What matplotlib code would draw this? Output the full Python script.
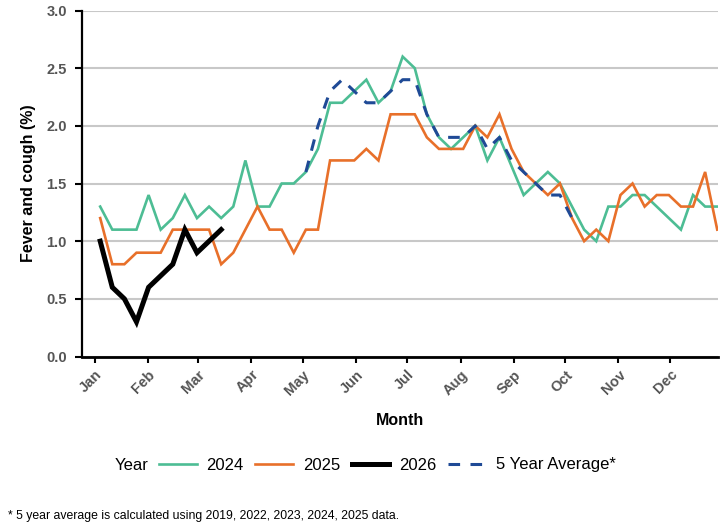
import matplotlib
matplotlib.use("Agg")
import matplotlib.pyplot as plt
import numpy as np

plt.rcParams['font.family'] = ['Liberation Sans', 'DejaVu Sans']

months = ['Jan', 'Feb', 'Mar', 'Apr', 'May', 'Jun', 'Jul', 'Aug', 'Sep', 'Oct', 'Nov', 'Dec']
month_start_day = [0, 31, 60, 91, 121, 152, 182, 213, 244, 274, 305, 335]

y2024 = [1.3, 1.1, 1.1, 1.1, 1.4, 1.1, 1.2, 1.4, 1.2, 1.3, 1.2, 1.3, 1.7, 1.3, 1.3,
         1.5, 1.5, 1.6, 1.8, 2.2, 2.2, 2.3, 2.4, 2.2, 2.3, 2.6, 2.5, 2.1, 1.9, 1.8,
         1.9, 2.0, 1.7, 1.9, 1.65, 1.4, 1.5, 1.6, 1.5, 1.3, 1.1, 1.0, 1.3, 1.3, 1.4,
         1.4, 1.3, 1.2, 1.1, 1.4, 1.3, 1.3]
y2025 = [1.2, 0.8, 0.8, 0.9, 0.9, 0.9, 1.1, 1.1, 1.1, 1.1, 0.8, 0.9, 1.1, 1.3, 1.1,
         1.1, 0.9, 1.1, 1.1, 1.7, 1.7, 1.7, 1.8, 1.7, 2.1, 2.1, 2.1, 1.9, 1.8, 1.8,
         1.8, 2.0, 1.9, 2.1, 1.8, 1.6, 1.5, 1.4, 1.5, 1.2, 1.0, 1.1, 1.0, 1.4, 1.5,
         1.3, 1.4, 1.4, 1.3, 1.3, 1.6, 1.1]
y2026 = [1.0, 0.6, 0.5, 0.3, 0.6, 0.7, 0.8, 1.1, 0.9, 1.0, 1.1]
avg_start_week = 18
y_avg = [1.6, 2.0, 2.3, 2.4, 2.3, 2.2, 2.2, 2.3, 2.4, 2.4, 2.1, 1.9, 1.9, 1.9,
         2.0, 1.8, 1.9, 1.7, 1.6, 1.5, 1.4, 1.4, 1.2]


def week_x(weeks):
    w = np.asarray(weeks, dtype=float)
    return 3.0 + 7.05 * (w - 1)


w24 = np.arange(1, len(y2024) + 1)
w25 = np.arange(1, len(y2025) + 1)
w26 = np.arange(1, len(y2026) + 1)
wav = np.arange(avg_start_week, avg_start_week + len(y_avg))

fig = plt.figure(figsize=(7.28, 5.31), dpi=100)
ax = fig.add_axes([82 / 728, 1 - 356.5 / 531, (718 - 82) / 728, (356.5 - 10.5) / 531])

c24 = '#4dbd94'
c25 = '#e8702a'
c26 = '#000000'
cav = '#1f4a96'

ax.set_ylim(0, 3.0)
ax.set_xlim(-7.6, 363)
ax.set_yticks(np.arange(0, 3.01, 0.5))
ax.set_yticklabels([f'{v:.1f}' for v in np.arange(0, 3.01, 0.5)])
ax.grid(axis='y', color='#c8c8c8', linewidth=1.5, zorder=0)
ax.set_axisbelow(True)

l24, = ax.plot(week_x(w24), y2024, color=c24, linewidth=1.9, solid_joinstyle='miter', zorder=3)
l25, = ax.plot(week_x(w25), y2025, color=c25, linewidth=1.9, solid_joinstyle='miter', zorder=3)
l26, = ax.plot(week_x(w26), y2026, color=c26, linewidth=3.6, solid_joinstyle='miter', zorder=4)
lav, = ax.plot(week_x(wav), y_avg, color=cav, linewidth=2.2, linestyle=(0, (3.8, 3.4)), zorder=5)

ax.set_xticks(month_start_day)
ax.set_xticklabels(months, rotation=45, ha='right', va='top', rotation_mode='anchor')

for s in ['top', 'right']:
    ax.spines[s].set_visible(False)
ax.spines['left'].set_linewidth(1.6)
ax.spines['bottom'].set_linewidth(2.0)

ax.tick_params(axis='y', length=5, width=1.5, labelsize=10.5, labelcolor='#555555', pad=6)
ax.tick_params(axis='x', length=4, width=1.5, labelsize=10.5, labelcolor='#555555', pad=4)
for lab in ax.get_xticklabels() + ax.get_yticklabels():
    lab.set_fontweight('bold')

ax.set_xlabel('Month', fontsize=11.5, fontweight='bold', labelpad=11)
ax.set_ylabel('Fever and cough (%)', fontsize=11.5, fontweight='bold', labelpad=7)

fig.text(115 / 728, 1 - 465 / 531, 'Year', fontsize=12, ha='left', va='center')
fig.legend([l24, l25, l26, lav], ['2024', '2025', '2026', '5 Year Average*'],
           loc='center left', bbox_to_anchor=(159 / 728, 1 - 465 / 531),
           ncol=4, frameon=False, fontsize=12, handlelength=2.25,
           handletextpad=0.6, columnspacing=0.7, borderpad=0, borderaxespad=0)

fig.text(8 / 728, 1 - 516 / 531,
         '* 5 year average is calculated using 2019, 2022, 2023, 2024, 2025 data.',
         fontsize=8.85, ha='left', va='center')

fig.savefig('out.png', dpi=100)
